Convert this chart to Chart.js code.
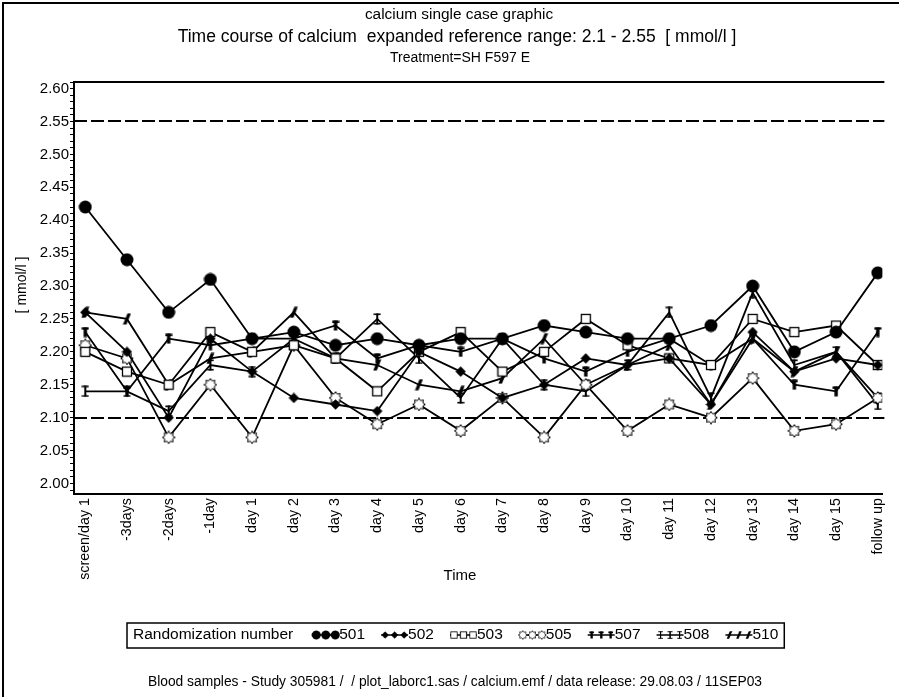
<!DOCTYPE html>
<html><head><meta charset="utf-8">
<script src="https://cdn.jsdelivr.net/npm/chart.js@4/dist/chart.umd.min.js"></script>
<style>html,body{margin:0;padding:0;background:#fff;overflow:hidden}canvas{display:block}</style>
</head><body>
<canvas id="c" width="899" height="697"></canvas>
<script>
// ---------- data ----------
const categories = ['screen/day 1','-3days','-2days','-1day','day 1','day 2','day 3','day 4','day 5','day 6','day 7','day 8','day 9','day 10','day 11','day 12','day 13','day 14','day 15','follow up'];
const seriesNames = ['501','502','503','505','507','508','510'];
const s501 = [2.42,2.34,2.26,2.31,2.22,2.23,2.21,2.22,2.21,2.22,2.22,2.24,2.23,2.22,2.22,2.24,2.30,2.20,2.23,2.32];
const s502 = [2.26,2.20,2.10,2.22,2.17,2.13,2.12,2.11,2.20,2.17,2.13,2.15,2.19,2.18,2.19,2.12,2.23,2.17,2.19,2.18];
const s503 = [2.20,2.17,2.15,2.23,2.20,2.21,2.19,2.14,2.20,2.23,2.17,2.20,2.25,2.21,2.19,2.18,2.25,2.23,2.24,2.18];
const s505 = [2.21,2.19,2.07,2.15,2.07,2.21,2.13,2.09,2.12,2.08,2.13,2.07,2.15,2.08,2.12,2.10,2.16,2.08,2.09,2.13];
const s507 = [2.23,2.14,2.22,2.21,2.22,2.22,2.24,2.19,2.21,2.20,2.22,2.19,2.17,2.20,2.22,2.18,2.22,2.15,2.14,2.23];
const s508 = [2.14,2.14,2.11,2.18,2.17,2.22,2.19,2.25,2.19,2.13,2.22,2.15,2.14,2.18,2.26,2.13,2.29,2.18,2.20,2.12];
const s510 = [2.26,2.25,2.15,2.19,2.20,2.26,2.19,2.18,2.15,2.14,2.16,2.22,2.15,2.18,2.21,2.12,2.22,2.17,2.20,2.13];
const seriesValues = [s501,s502,s503,s505,s507,s508,s510];
const refLines = [2.10, 2.55];
const yMajorStep = 0.05;
const titleLines = ['calcium single case graphic','Time course of calcium  expanded reference range: 2.1 - 2.55  [ mmol/l ]','Treatment=SH F597 E'];
const xTitle = 'Time';
const yTitle = '[ mmol/l ]';
const legendTitle = 'Randomization number';
const footerText = 'Blood samples - Study 305981 /  / plot_laborc1.sas / calcium.emf / data release: 29.08.03 / 11SEP03';

// ---------- markers ----------
const FONT = '"Liberation Sans", Arial, sans-serif';
function mk(w,h,fn){const c=document.createElement('canvas');c.width=w;c.height=h;const x=c.getContext('2d');fn(x,w,h);return c;}
const markers = {
  '501': mk(14,14,x=>{x.fillStyle='#000';x.beginPath();x.arc(7,7,6.5,0,2*Math.PI);x.fill();}),
  '502': mk(11,11,x=>{x.fillStyle='#000';x.beginPath();x.moveTo(5.5,0.3);x.lineTo(10.7,5.5);x.lineTo(5.5,10.7);x.lineTo(0.3,5.5);x.closePath();x.fill();}),
  '503': mk(12,12,x=>{x.fillStyle='#fff';x.fillRect(1,1,10,10);x.strokeStyle='#000';x.lineWidth=1.3;x.strokeRect(1.5,1.5,9,9);}),
  '505': mk(14,14,x=>{x.beginPath();const n=8;for(let i=0;i<2*n;i++){const r=i%2?4.2:6.3;const a=i*Math.PI/n-Math.PI/2;const px=7+r*Math.cos(a),py=7+r*Math.sin(a);i?x.lineTo(px,py):x.moveTo(px,py);}x.closePath();x.fillStyle='#fff';x.fill();x.strokeStyle='#000';x.lineWidth=1;x.stroke();}),
  '507': mk(8,11,x=>{x.fillStyle='#000';x.fillRect(0.5,0.5,7,2.5);x.fillRect(2.3,0.5,3.4,10);}),
  '508': mk(8,12,x=>{x.fillStyle='#000';x.fillRect(3,0.5,2,11);x.fillRect(0.5,0.5,7,1.6);x.fillRect(0.5,9.9,7,1.6);}),
  '510': mk(9,12,x=>{x.fillStyle='#000';x.beginPath();x.moveTo(0.5,11.5);x.lineTo(5,0.5);x.lineTo(8.5,0.5);x.lineTo(4,11.5);x.closePath();x.fill();})
};

const datasets = seriesNames.map((n,i)=>({
  label: n,
  data: seriesValues[i].map((v,j)=>({x:j,y:v})),
  borderColor:'#000', backgroundColor:'#000', borderWidth:1.8,
  pointStyle: markers[n], pointRadius:6, pointHoverRadius:6,
  tension:0, fill:false
}));

// ---------- decorations ----------
const decor = {
  id:'decor',
  beforeDraw(chart){const c=chart.ctx;c.save();c.fillStyle='#fff';c.fillRect(0,0,chart.width,chart.height);c.restore();},
  beforeDatasetsDraw(chart){
    const c=chart.ctx, a=chart.chartArea, ys=chart.scales.y;
    c.save();c.strokeStyle='#000';c.lineWidth=2;c.setLineDash([13,4]);
    refLines.forEach(v=>{const y=Math.round(ys.getPixelForValue(v));c.beginPath();c.moveTo(a.left,y);c.lineTo(a.right+2,y);c.stroke();});
    c.restore();
  },
  afterDraw(chart){
    const c=chart.ctx, a=chart.chartArea;
    c.save();
    c.strokeStyle='#000';c.lineWidth=2;
    c.beginPath();c.moveTo(3,697);c.lineTo(3,3);c.lineTo(899,3);c.stroke();
    c.beginPath();c.moveTo(a.left-1,a.top);c.lineTo(a.right+2,a.top);c.stroke();
    c.fillStyle='#000';c.textAlign='center';c.textBaseline='middle';
    c.font='15.4px '+FONT;c.fillText(titleLines[0],459,15);
    c.font='17.5px '+FONT;c.fillText(titleLines[1],457,37);
    c.font='14px '+FONT;c.fillText(titleLines[2],460,58);
    c.font='15px '+FONT;c.fillText(xTitle,460,576);
    c.font='13.8px '+FONT;c.fillText(footerText,455,682);
    c.save();c.translate(22,285);c.rotate(-Math.PI/2);c.font='14px '+FONT;c.fillText(yTitle,0,0);c.restore();
    // legend
    const ly=635, lx=127;
    c.font='15.5px '+FONT;c.textAlign='left';
    let x=lx+6;
    c.fillText(legendTitle,x,ly);
    x+=c.measureText(legendTitle).width+19;
    seriesNames.forEach(n=>{
      const m=markers[n];
      c.lineWidth=1.5;c.beginPath();c.moveTo(x,ly);c.lineTo(x+27,ly);c.stroke();
      const sc=0.7;
      [x+4,x+13.5,x+23].forEach(px=>c.drawImage(m,px-m.width*sc/2,ly-m.height*sc/2,m.width*sc,m.height*sc));
      c.fillText(n,x+27,ly);
      x+=27+c.measureText(n).width+16;
    });
    c.lineWidth=1.5;c.strokeRect(lx,623,x-16+6-lx,25);
    c.restore();
  }
};

new Chart(document.getElementById('c'),{
  type:'line',
  data:{datasets},
  plugins:[decor],
  options:{
    responsive:false, animation:false, devicePixelRatio:1,
    layout:{padding:{left:0,top:82,right:1,bottom:0}},
    plugins:{legend:{display:false},title:{display:false},tooltip:{enabled:false}},
    scales:{
      x:{type:'linear',min:-0.27,max:19.11,
        afterFit:s=>{s.height=203;},
        grid:{display:true,drawOnChartArea:false,drawTicks:false},
        border:{display:true,color:'#000',width:2},
        ticks:{stepSize:1,includeBounds:false,autoSkip:false,maxRotation:90,minRotation:90,padding:4,color:'#000',
          font:{family:FONT,size:14.3},
          callback:v=>Number.isInteger(v)&&categories[v]!==undefined?categories[v]:''}
      },
      y:{type:'linear',min:1.984,max:2.61,
        afterFit:s=>{s.width=74;},
        grid:{display:true,drawOnChartArea:false,drawTicks:true,tickLength:4,color:'#000'},
        border:{display:true,color:'#000',width:2},
        ticks:{stepSize:0.01,includeBounds:false,autoSkip:false,padding:1,color:'#000',
          font:{family:FONT,size:15},
          callback:v=>{const k=Math.round(v*100);const m=Math.round(yMajorStep*100);return k%m===0?(k/100).toFixed(2):'';}}
      }
    }
  }
});
</script>
</body></html>
